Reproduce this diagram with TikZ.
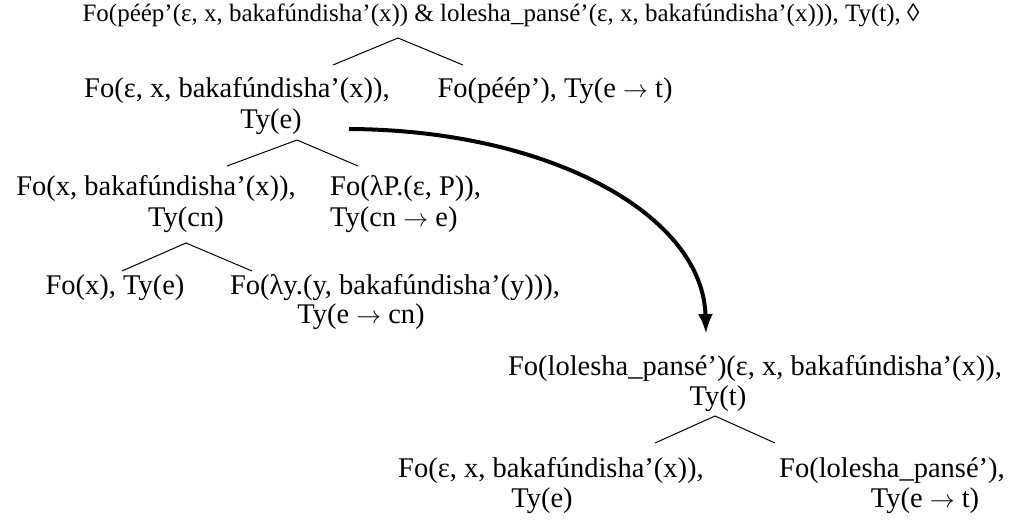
\documentclass[tikz,border=0pt]{standalone}
\usepackage{fontspec}
\setmainfont{Liberation Serif}
\usetikzlibrary{arrows.meta}
\newcommand{\ar}{\ensuremath{\rightarrow}}
\begin{document}
\begin{tikzpicture}[x=1pt,y=-1pt,
  lbl/.style={inner sep=0pt,anchor=base,font=\fontsize{28.5}{30}\selectfont},
  lbll/.style={lbl,anchor=base west},
  toplbl/.style={lbl,font=\fontsize{25}{28}\selectfont},
  branch/.style={line width=1pt,black},
  move/.style={line width=4pt,-{Latex[length=20pt,width=15pt]}}]
\useasboundingbox (0,0) rectangle (1011,520);
% top
\node[toplbl] (t0) at (501,21) {Fo(péép’(ε, x, bakafúndisha’(x)) \& lolesha\_pansé’(ε, x, bakafúndisha’(x))), Ty(t), ◊};
% level 1
\node[lbl] (l1a) at (237,97) {Fo(ε, x, bakafúndisha’(x)),};
\node[lbl] (l1b) at (271,128) {Ty(e)};
\node[lbl] (r1) at (555,97) {Fo(péép’), Ty(e \ar{} t)};
% level 2
\node[lbl] (l2a) at (156,195) {Fo(x, bakafúndisha’(x)),};
\node[lbl] (l2b) at (186,226) {Ty(cn)};
\node[lbll] (r2a) at (330,195) {Fo(λP.(ε, P)),};
\node[lbll] (r2b) at (330,226) {Ty(cn \ar{} e)};
% level 3
\node[lbl] (l3) at (115,294) {Fo(x), Ty(e)};
\node[lbl] (r3a) at (395,294) {Fo(λy.(y, bakafúndisha’(y))),};
\node[lbl] (r3b) at (361,323) {Ty(e \ar{} cn)};
% second tree
\node[lbl] (n4a) at (755,375) {Fo(lolesha\_pansé’)(ε, x, bakafúndisha’(x)),};
\node[lbl] (n4b) at (718,405) {Ty(t)};
\node[lbl] (n5la) at (551,477) {Fo(ε, x, bakafúndisha’(x)),};
\node[lbl] (n5lb) at (542,507) {Ty(e)};
\node[lbl] (n5ra) at (892,477) {Fo(lolesha\_pansé’),};
\node[lbl] (n5rb) at (925,507) {Ty(e \ar{} t)};
% branch coordinates
\coordinate (b0) at (398,38);  \coordinate (b0l) at (333,65);  \coordinate (b0r) at (463,65);
\coordinate (b1) at (297,140); \coordinate (b1l) at (227,166); \coordinate (b1r) at (358,166);
\coordinate (b2) at (186,243); \coordinate (b2l) at (122,271); \coordinate (b2r) at (252,271);
\coordinate (b4) at (715,416); \coordinate (b4l) at (655,443); \coordinate (b4r) at (775,443);
\draw[branch] (b0l) -- (b0) -- (b0r);
\draw[branch] (b1l) -- (b1) -- (b1r);
\draw[branch] (b2l) -- (b2) -- (b2r);
\draw[branch] (b4l) -- (b4) -- (b4r);
% arrow
\coordinate (as) at (349,129);
\coordinate (ae) at (706,334);
\draw[move] (as) .. controls (550,130) and (703,215) .. (ae);
\end{tikzpicture}
\end{document}
